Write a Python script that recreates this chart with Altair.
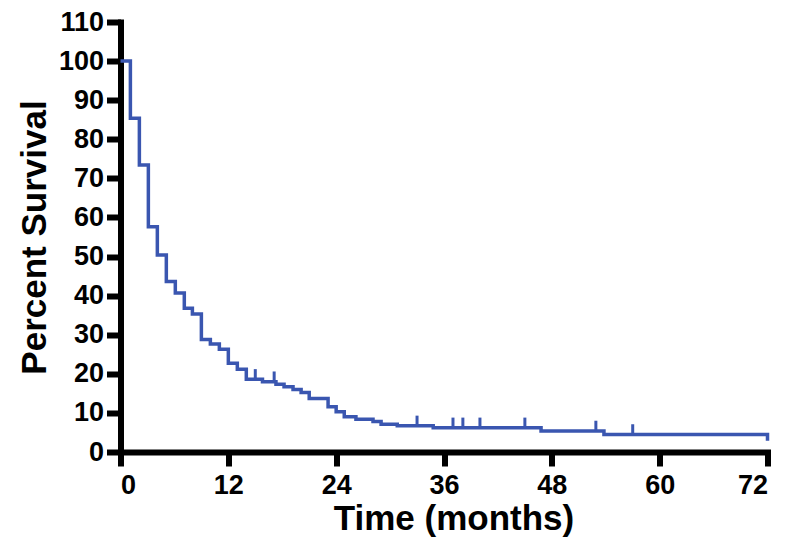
import altair as alt
import pandas as pd

# Kaplan-Meier steps (time in months, percent survival after the event)
step_times = [0, 1.1, 2.1, 3.1, 4.1, 5.1, 6.1, 7.1, 8.0, 9.0, 10.0, 11.0, 12.0, 13.0,
              14.0, 15.8, 17.3, 18.2, 19.2, 20.1, 21.0, 23.1, 24.0, 24.9, 26.2, 28.1,
              29.0, 30.8, 34.8, 46.8, 53.8, 72.0]
step_surv = [100, 85.4, 73.4, 57.6, 50.4, 43.6, 40.7, 36.8, 35.3, 28.8, 27.6, 26.3, 22.7,
             21.2, 18.6, 18.0, 17.3, 16.7, 16.0, 15.2, 13.7, 11.6, 10.3, 9.0, 8.4, 7.8,
             7.1, 6.7, 6.2, 5.4, 4.5, 2.9]

# Censored observations
censor_times = [15.0, 17.1, 33.0, 37.0, 38.1, 40.0, 45.0, 52.9, 57.0]
censor_surv = [18.6, 18.0, 6.7, 6.2, 6.2, 6.2, 6.2, 5.4, 4.5]

x_ticks = [0, 12, 24, 36, 48, 60, 72]
y_ticks = [0, 10, 20, 30, 40, 50, 60, 70, 80, 90, 100, 110]

steps = pd.DataFrame({"t": step_times, "s": step_surv})
censors = pd.DataFrame({"t": censor_times, "s": censor_surv})

BLUE = "#3a56b0"

x_scale = alt.Scale(domain=[0, 72], nice=False, zero=False)
y_scale = alt.Scale(domain=[0, 110], nice=False)

x_axis = alt.Axis(values=x_ticks, title="Time (months)", labelPadding=6, titlePadding=3,
                  labelOverlap=False, titleX=333)
y_axis = alt.Axis(values=y_ticks, title="Percent Survival", labelPadding=3, titlePadding=6,
                  labelOverlap=False)

line = alt.Chart(steps).mark_line(interpolate="step-after", color=BLUE, strokeWidth=3.5).encode(
    x=alt.X("t:Q", scale=x_scale, axis=x_axis),
    y=alt.Y("s:Q", scale=y_scale, axis=y_axis),
)

ticks = alt.Chart(censors).transform_calculate(top="datum.s + 2.6").mark_rule(
    color=BLUE, strokeWidth=3
).encode(
    x=alt.X("t:Q", scale=x_scale, axis=x_axis),
    y=alt.Y("s:Q", scale=y_scale, axis=y_axis),
    y2="top:Q",
)

chart = alt.layer(line, ticks).properties(
    width=647,
    height=430,
    autosize=alt.AutoSizeParams(type="none"),
    padding={"left": 112.5, "top": 14, "right": 24, "bottom": 96},
    background="white",
).configure_view(
    stroke=None
).configure_axis(
    grid=False,
    domainColor="black",
    domainWidth=6,
    domainCap="square",
    tickColor="black",
    tickWidth=6,
    tickSize=14,
    labelFont="Liberation Sans",
    labelFontWeight="bold",
    labelFontSize=27,
    labelColor="black",
    titleFont="Liberation Sans",
    titleFontWeight="bold",
    titleFontSize=35,
    titleColor="black",
)

chart.save("out.html", embed_options={"renderer": "svg", "actions": False})
